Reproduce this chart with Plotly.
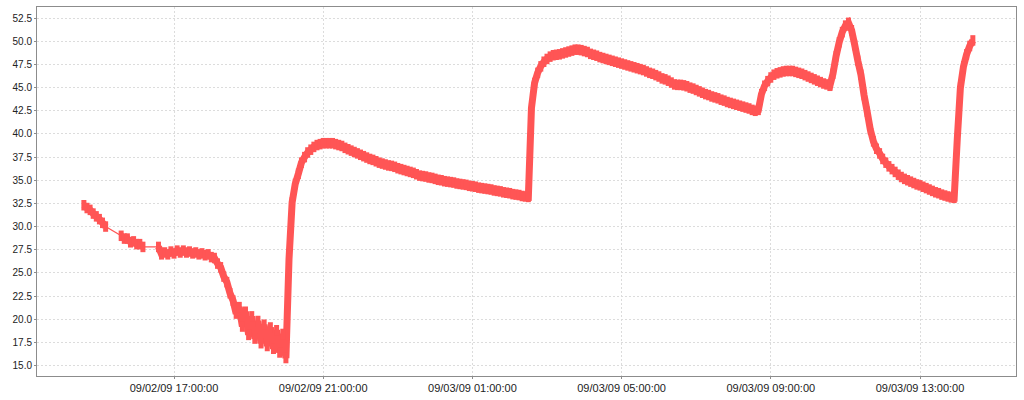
import pandas as pd
import plotly.graph_objects as go

# ---- data ----
start_time = "2009-09-02 14:35:00"
sample_step = "5min"
# one row per hour of 5-minute samples; None = no reading
temperature = [
    32.3, 32.0, 31.8, 31.4, 31.1, 30.8, 30.4, 30.0, None, None, None, None,
    29.0, 28.7, 28.7, 28.3, 28.4, 28.1, 28.1, 27.8, None, None, None, None,
    27.8, 27.0, 27.2, 27.0, 27.3, 27.1, 27.4, 27.2, 27.4, 27.2, 27.3, 27.1,
    27.2, 27.0, 27.1, 26.9, 27.0, 26.7, 26.6, 26.0, 25.6, 24.6, 24.0, 22.8,
    22.0, 20.6, 21.3, 19.2, 20.8, 18.3, 20.3, 17.9, 19.8, 17.4, 19.4, 17.1,
    19.1, 16.8, 18.8, 16.4, 18.4, 15.8, 26.5, 32.6, 34.6, 35.7, 36.9, 37.5,
    38.0, 38.3, 38.6, 38.8, 38.9, 39.0, 39.0, 39.0, 39.0, 38.9, 38.8, 38.7,
    38.5, 38.35, 38.2, 38.05, 37.9, 37.75, 37.6, 37.45, 37.3, 37.2, 37.05, 36.9,
    36.8, 36.7, 36.6, 36.55, 36.45, 36.3, 36.2, 36.1, 36.0, 35.9, 35.8, 35.65,
    35.5, 35.45, 35.4, 35.3, 35.25, 35.15, 35.05, 35.0, 34.9, 34.85, 34.8, 34.75,
    34.65, 34.6, 34.55, 34.5, 34.4, 34.35, 34.3, 34.2, 34.15, 34.1, 34.05, 34.0,
    33.9, 33.85, 33.8, 33.7, 33.65, 33.6, 33.5, 33.45, 33.4, 33.3, 33.25, 33.2,
    42.8, 45.5, 46.6, 47.3, 47.8, 48.1, 48.35, 48.5, 48.55, 48.6, 48.7, 48.8,
    48.9, 49.0, 49.1, 49.1, 49.05, 48.95, 48.85, 48.65, 48.55, 48.45, 48.3, 48.2,
    48.1, 48.0, 47.9, 47.8, 47.7, 47.6, 47.5, 47.4, 47.3, 47.2, 47.1, 47.0,
    46.9, 46.75, 46.6, 46.5, 46.35, 46.2, 46.0, 45.9, 45.75, 45.55, 45.35, 45.3,
    45.3, 45.25, 45.15, 45.0, 44.9, 44.75, 44.6, 44.45, 44.3, 44.2, 44.05, 43.95,
    43.85, 43.7, 43.6, 43.45, 43.35, 43.25, 43.15, 43.05, 42.95, 42.85, 42.75, 42.6,
    42.5, 42.6, 44.3, 45.2, 45.7, 46.1, 46.4, 46.55, 46.65, 46.75, 46.8, 46.8,
    46.8, 46.7, 46.6, 46.5, 46.35, 46.2, 46.05, 45.9, 45.75, 45.6, 45.45, 45.35,
    45.2, 46.5, 48.4, 49.9, 51.0, 51.7, 52.0, 51.2, 49.6, 47.9, 46.4, 44.2,
    42.4, 40.5, 39.2, 38.4, 37.9, 37.3, 36.9, 36.5, 36.2, 35.9, 35.6, 35.35,
    35.15, 35.0, 34.85, 34.7, 34.55, 34.45, 34.3, 34.15, 34.0, 33.85, 33.7, 33.6,
    33.45, 33.35, 33.25, 33.15, 33.1, 39.5, 45.0, 47.3, 48.6, 49.5, 50.1,
]

x_range = ["2009-09-02 13:19:36", "2009-09-03 15:34:26"]
first_tick = "2009-09-02 17:00:00"
tick_hours = 4
y_range = [13.86, 53.71]
y_step = 2.5

times = pd.date_range(start_time, periods=len(temperature), freq=sample_step)

color = "#ff5555"
fig = go.Figure()
# thin connector (bridges gaps in the readings)
fig.add_trace(go.Scatter(
    x=times, y=temperature, mode="lines", connectgaps=True,
    line=dict(color=color, width=1.2, simplify=False),
    hoverinfo="skip", showlegend=False))
# thick series with tall rectangular markers
fig.add_trace(go.Scatter(
    x=times, y=temperature, mode="lines+markers", connectgaps=False,
    line=dict(color=color, width=7, simplify=False),
    marker=dict(symbol="line-ns", size=7.5, color=color,
                line=dict(color=color, width=5)),
    showlegend=False))

axis_common = dict(
    showgrid=True, gridcolor="#dcdcdc", griddash="2px,2px", gridwidth=1,
    showline=True, linecolor="#8c8c8c", linewidth=1, mirror=True,
    ticks="outside", ticklen=2, tickcolor="#8c8c8c",
    zeroline=False,
)
font_family = "Liberation Sans, Arial, sans-serif"

fig.update_layout(
    width=1024, height=400, autosize=False,
    margin=dict(l=37, r=8, t=6, b=21),
    paper_bgcolor="white", plot_bgcolor="white",
    xaxis=dict(type="date", range=x_range, tick0=first_tick,
               dtick=tick_hours * 3600 * 1000,
               tickformat="%m/%d/%y %H:%M:%S",
               tickfont=dict(family=font_family, size=11, color="#222222"),
               **axis_common),
    yaxis=dict(range=y_range, dtick=y_step, tick0=0, tickformat=".1f",
               tickfont=dict(family=font_family, size=10, color="#222222"),
               **axis_common),
)

fig.write_html("out.html", config={"displayModeBar": False},
               post_script="document.body.style.margin='0';")
